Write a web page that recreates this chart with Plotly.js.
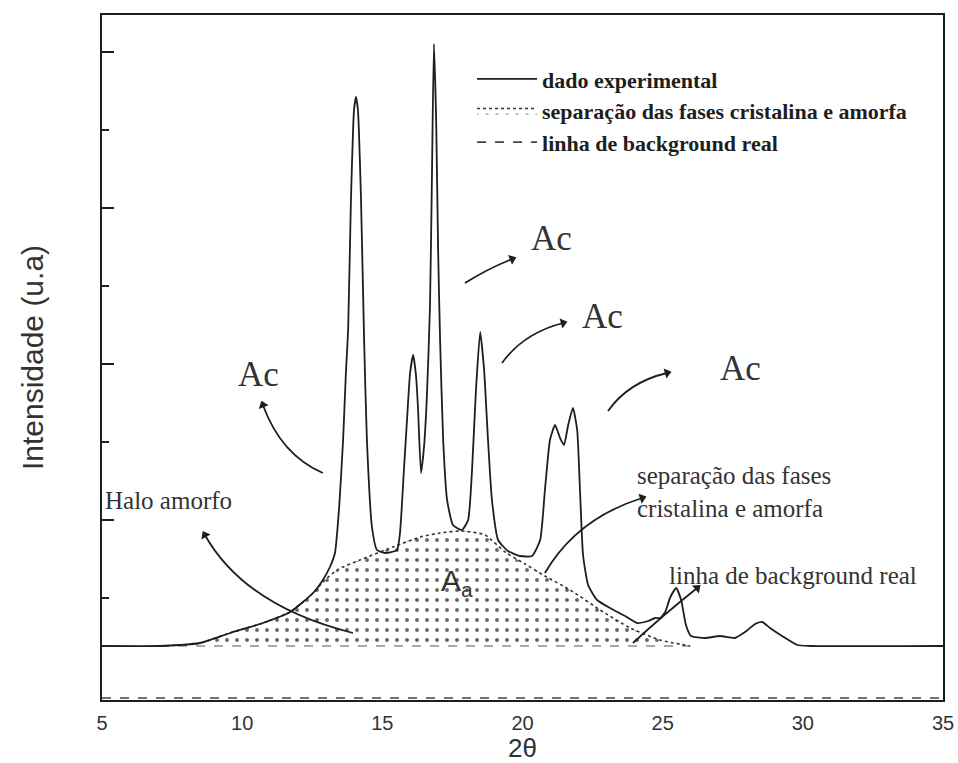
<!DOCTYPE html>
<html><head><meta charset="utf-8">
<script src="https://cdn.plot.ly/plotly-3.0.1.min.js"></script>
<style>html,body{margin:0;padding:0;background:#fff}#chart{width:958px;height:763px}</style>
</head><body><div id="chart"></div>
<script>
// Experimental diffractogram (2θ in degrees, intensity in arbitrary units, baseline = 0)
const twoTheta = [5.00, 7.07, 7.78, 8.50, 9.57, 10.74, 11.71, 12.53, 12.88, 13.13, 13.31, 13.46, 13.60, 13.70, 13.78, 13.88, 13.99, 14.06, 14.13, 14.24, 14.35, 14.45, 14.63, 14.81, 15.10, 15.52, 15.63, 15.77, 15.88, 15.99, 16.10, 16.20, 16.27, 16.38, 16.49, 16.59, 16.70, 16.77, 16.84, 16.92, 16.99, 17.06, 17.17, 17.31, 17.52, 17.84, 18.06, 18.20, 18.34, 18.49, 18.63, 18.77, 18.91, 19.13, 19.48, 19.91, 20.34, 20.63, 20.80, 20.98, 21.16, 21.34, 21.48, 21.63, 21.80, 21.95, 22.05, 22.16, 22.34, 22.66, 23.12, 23.66, 24.09, 24.48, 24.73, 24.91, 25.09, 25.26, 25.48, 25.66, 25.83, 26.01, 26.51, 27.05, 27.58, 27.94, 28.30, 28.55, 28.83, 29.26, 29.80, 30.26, 35.00];
const intensity = [0, 0, 10, 30, 130, 230, 340, 530, 660, 790, 930, 1390, 2060, 2730, 3160, 4460, 5360, 5490, 5360, 4460, 3060, 2060, 1190, 960, 930, 960, 1130, 1760, 2260, 2730, 2910, 2710, 2390, 1730, 2000, 2500, 3400, 4700, 6020, 5260, 3960, 3060, 2060, 1460, 1210, 1160, 1260, 1760, 2560, 3140, 2760, 2060, 1460, 1060, 950, 900, 900, 1060, 1560, 2060, 2210, 2080, 2010, 2210, 2380, 2160, 1560, 910, 610, 460, 380, 300, 230, 250, 280, 280, 340, 480, 580, 460, 210, 100, 80, 100, 80, 140, 220, 240, 180, 100, 10, 0, 0];

// Amorphous halo (separation of crystalline and amorphous phases)
const haloTheta = [7.07, 7.78, 8.50, 9.57, 10.74, 11.71, 12.53, 12.88, 13.38, 14.20, 15.38, 16.35, 17.06, 17.84, 18.66, 19.38, 20.09, 20.80, 21.70, 22.77, 23.84, 24.91, 25.98];
const haloIntensity = [0, 10, 30, 130, 230, 340, 530, 640, 760, 860, 990, 1090, 1130, 1150, 1110, 940, 820, 700, 560, 360, 180, 60, 0];
const baselineLevel = 0;

// Real background line
const backgroundTheta = [5, 35];
const backgroundIntensity = [-520, -520];

// Axis ticks
const xTickVals = [5, 10, 15, 20, 25, 30, 35];
const xTickText = ['5', '10', '15', '20', '25', '30', '35'];
const yMajorTicks = [1260, 2820, 4380, 5940];
const yMinorTicks = [480, 2040, 3600, 5160];

// Legend names
const seriesNames = ['dado experimental', 'separação das fases cristalina e amorfa', 'linha de background real'];

const ink = '#1e1e1e';
const serif = 'Liberation Serif, Times New Roman, serif';
const sans = 'Liberation Sans, Arial, sans-serif';

// Curved annotation arrows: tail, control, head (data coords) and head angle (deg)
const arrows = [
  [13.95, 130, 10.10, 400, 8.67, 1110, -29],
  [12.88, 1730, 11.39, 1910, 10.74, 2410, -20],
  [17.95, 3630, 18.74, 3770, 19.63, 3870, 68],
  [19.27, 2830, 20.04, 3130, 21.45, 3230, 75],
  [23.05, 2350, 23.78, 2640, 25.16, 2730, 75],
  [20.80, 730, 21.93, 1275, 24.27, 1480, 72],
  [23.94, 30, 25.0, 305, 26.23, 580, 49]
];

const traces = [
  { x: haloTheta, y: haloTheta.map(() => baselineLevel), mode: 'lines', line: { color: '#555', width: 1, dash: 'dash' },
    showlegend: false, hoverinfo: 'skip' },
  { x: haloTheta, y: haloIntensity, name: seriesNames[1], mode: 'lines', fill: 'tonexty',
    line: { color: '#333', width: 1.6, dash: 'dot', shape: 'spline', smoothing: 0.6 },
    fillcolor: 'rgba(255,255,255,0)',
    fillpattern: { shape: '.', size: 10, solidity: 0.12, fgcolor: '#666', bgcolor: 'rgba(255,255,255,0)' },
    legendrank: 2 },
  { x: backgroundTheta, y: backgroundIntensity, name: seriesNames[2], mode: 'lines',
    line: { color: '#444', width: 1.6, dash: 'dash' }, legendrank: 3 },
  { x: twoTheta, y: intensity, name: seriesNames[0], mode: 'lines',
    line: { color: ink, width: 1.8, shape: 'spline', smoothing: 0.5 }, legendrank: 1 },
  { x: arrows.map(a => a[4]), y: arrows.map(a => a[5]), mode: 'markers', showlegend: false, hoverinfo: 'skip',
    marker: { symbol: 'triangle-up', size: 9, color: ink, angle: arrows.map(a => a[6]) } }
];

function arrowPath(a) { return `M ${a[0]},${a[1]} Q ${a[2]},${a[3]} ${a[4]},${a[5]}`; }
const shapes = arrows.map(a => ({ type: 'path', xref: 'x', yref: 'y', path: arrowPath(a),
  line: { color: ink, width: 1.8 } }));

const labels = [
  { x: 10.57, y: 2720, text: 'Ac', font: { family: serif, size: 35, color: '#333' } },
  { x: 21.02, y: 4080, text: 'Ac', font: { family: serif, size: 35, color: '#333' } },
  { x: 22.87, y: 3300, text: 'Ac', font: { family: serif, size: 35, color: '#333' } },
  { x: 27.76, y: 2780, text: 'Ac', font: { family: serif, size: 35, color: '#333' } },
  { x: 5.03, y: 1460, text: 'Halo amorfo', xanchor: 'left', font: { family: serif, size: 25, color: '#333' } },
  { x: 24.0, y: 1545, text: 'separação das fases<br>cristalina e amorfa', xanchor: 'left', align: 'left', font: { family: serif, size: 25, color: '#333' } },
  { x: 25.15, y: 710, text: 'linha de background real', xanchor: 'left', font: { family: serif, size: 25, color: '#333' } },
  { x: 17.67, y: 640, text: 'A<sub>a</sub>', font: { family: sans, size: 30, color: '#333' } }
].map(l => Object.assign({ xref: 'x', yref: 'y', showarrow: false }, l));

const layout = {
  width: 958, height: 763,
  margin: { l: 102, r: 15, t: 15, b: 63 },
  paper_bgcolor: '#fff', plot_bgcolor: '#fff',
  showlegend: true,
  legend: { x: 0.44, y: 0.937, xanchor: 'left', yanchor: 'top', bgcolor: 'rgba(0,0,0,0)', traceorder: 'normal',
    font: { family: serif, size: 22, color: ink, weight: 'bold' }, itemwidth: 60, tracegroupgap: 0 },
  xaxis: { range: [5, 35], tickvals: xTickVals, ticktext: xTickText, ticks: '', showgrid: false, zeroline: false,
    showline: true, mirror: true, linecolor: ink, linewidth: 2, ticklabelstandoff: 4,
    tickfont: { family: sans, size: 20, color: '#333' },
    title: { text: '2θ', font: { family: sans, size: 26, color: '#333' }, standoff: 9 } },
  yaxis: { range: [-540, 6310], showticklabels: false, ticks: 'inside', ticklen: 12, tickwidth: 2, tickcolor: ink,
    tickmode: 'array', tickvals: yMajorTicks, showgrid: false, zeroline: false,
    minor: { ticks: 'inside', ticklen: 7, tickwidth: 2, tickcolor: ink, tickmode: 'array', tickvals: yMinorTicks, showgrid: false },
    showline: true, mirror: true, linecolor: ink, linewidth: 2,
    title: { text: 'Intensidade (u.a)', font: { family: sans, size: 30, color: '#333' }, standoff: 48 } },
  shapes: shapes,
  annotations: labels
};

Plotly.newPlot('chart', traces, layout, { displayModeBar: false, staticPlot: true });
</script>
</body></html>
